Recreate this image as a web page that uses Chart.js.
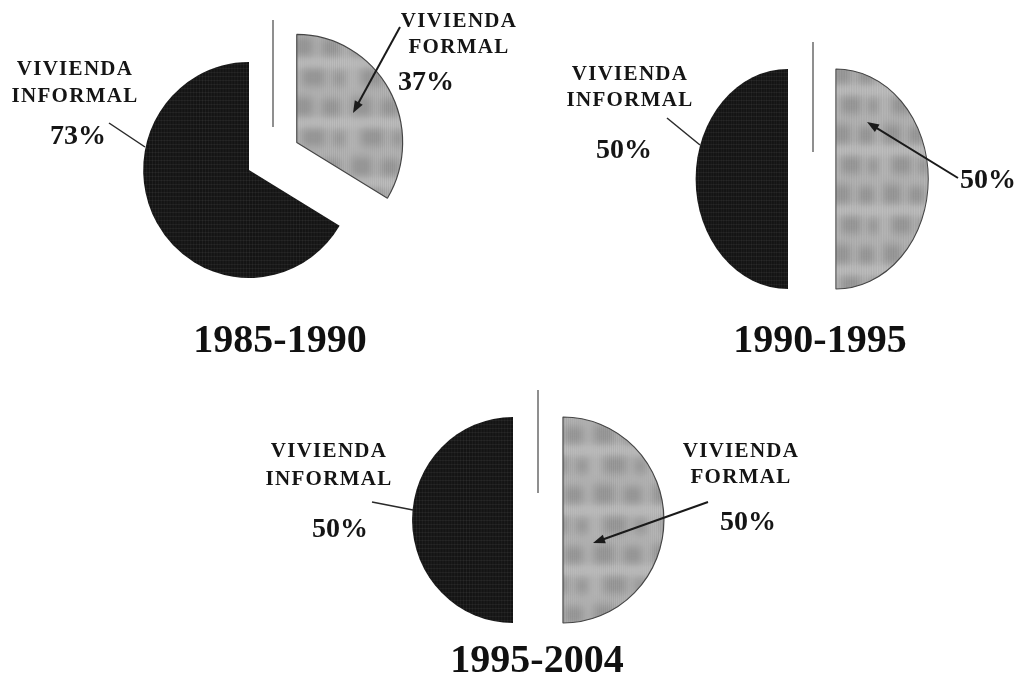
<!DOCTYPE html>
<html>
<head>
<meta charset="utf-8">
<title>Vivienda formal e informal</title>
<script src="https://cdn.jsdelivr.net/npm/chart.js@4.4.1/dist/chart.umd.min.js"></script>
<style>
body { margin: 0; background: #fff; }
#wrap { position: relative; width: 1022px; height: 677px; overflow: hidden; }
#wrap canvas { position: absolute; left: 0; top: 0; }
</style>
</head>
<body>
<div id="wrap">
<canvas id="pie1" width="1022" height="677"></canvas>
<canvas id="pie2" width="1022" height="677"></canvas>
<canvas id="pie3" width="1022" height="677"></canvas>
</div>
<script>
const categories = ['VIVIENDA FORMAL', 'VIVIENDA INFORMAL'];
const periods = ['1985-1990', '1990-1995', '1995-2004'];
const formalShare = [37, 50, 50];
const informalShare = [73, 50, 50];

// page placement of each pie and its labels
const layouts = [
    {
        cx: 249, cy: 170, r: 108, sx: 0.98, pull: [56, 0],
        informal: { x: 75, y: [75, 102], pct: [78, 144] },
        informalLine: [109, 123, 145, 147],
        formal: { x: 459, y: [27, 53], pct: [426, 90] },
        formalArrow: [400, 27, 353, 113],
        title: [280, 352],
        stray: [273, 20, 127]
    },
    {
        cx: 788, cy: 179, r: 110, sx: 0.84, pull: [57, 0],
        informal: { x: 630, y: [80, 106], pct: [624, 158] },
        informalLine: [667, 118, 700, 145],
        formal: { x: null, y: null, pct: [988, 188] },
        formalArrow: [958, 178, 867, 122],
        title: [820, 352],
        stray: [813, 42, 152]
    },
    {
        cx: 513, cy: 520, r: 103, sx: 0.98, pull: [51, 0],
        informal: { x: 329, y: [457, 485], pct: [340, 537] },
        informalLine: [372, 502, 413, 510],
        formal: { x: 741, y: [457, 483], pct: [748, 530] },
        formalArrow: [708, 502, 593, 543],
        title: [537, 672],
        stray: [538, 390, 493]
    }
];

const W = 1022, H = 677;

function makeLightFill() {
    const s = 60;
    const c = document.createElement('canvas');
    c.width = s; c.height = s;
    const g = c.getContext('2d');
    g.fillStyle = '#b8b8b8';
    g.fillRect(0, 0, s, s);
    // soft darker blotches like the scanned screen tone
    g.filter = 'blur(4px)';
    g.fillStyle = 'rgba(70,70,70,0.26)';
    const blobs = [[4, 4, 22, 20], [34, 6, 20, 18], [14, 36, 24, 18], [46, 38, 12, 16]];
    for (const [x, y, w, h] of blobs) {
        for (const dx of [-s, 0, s]) {
            for (const dy of [-s, 0, s]) g.fillRect(x + dx, y + dy, w, h);
        }
    }
    g.fillStyle = 'rgba(255,255,255,0.35)';
    for (const dy of [-s, 0, s]) g.fillRect(-10, 28 + dy, s + 20, 4);
    g.filter = 'none';
    g.fillStyle = 'rgba(0,0,0,0.06)';
    for (let x = 0; x < s; x += 2) g.fillRect(x, 0, 1, s);
    return g.createPattern(c, 'repeat');
}

function makeDarkFill() {
    const c = document.createElement('canvas');
    c.width = 12; c.height = 12;
    const g = c.getContext('2d');
    g.fillStyle = '#141414';
    g.fillRect(0, 0, 12, 12);
    g.fillStyle = 'rgba(255,255,255,0.05)';
    for (let x = 0; x < 12; x += 3) g.fillRect(x, 0, 1, 12);
    for (let y = 0; y < 12; y += 4) g.fillRect(0, y, 12, 1);
    return g.createPattern(c, 'repeat');
}

const lightFill = makeLightFill();
const darkFill = makeDarkFill();

// draw each slice pulled out along its middle angle, and squeeze
// the pie horizontally since the scanned pies are slightly oval
const explode = {
    id: 'explode',
    beforeDatasetDraw(chart, args, opts) {
        const ctx = chart.ctx;
        ctx.save();
        ctx.translate(opts.cx, opts.cy);
        ctx.scale(opts.sx, 1);
        ctx.translate(-opts.cx, -opts.cy);
        args.meta.data.forEach((arc, k) => {
            const mid = (arc.startAngle + arc.endAngle) / 2;
            const pull = opts.pull[k] || 0;
            ctx.save();
            ctx.translate(Math.cos(mid) * pull, Math.sin(mid) * pull);
            arc.draw(ctx, chart.chartArea);
            ctx.restore();
        });
        ctx.restore();
        return false;
    }
};

function drawArrow(ctx, p) {
    const [x1, y1, x2, y2] = p;
    const a = Math.atan2(y2 - y1, x2 - x1);
    const len = 12, half = 4.5;
    ctx.strokeStyle = '#1a1a1a';
    ctx.lineWidth = 2;
    ctx.beginPath();
    ctx.moveTo(x1, y1);
    ctx.lineTo(x2 - Math.cos(a) * len * 0.8, y2 - Math.sin(a) * len * 0.8);
    ctx.stroke();
    ctx.fillStyle = '#1a1a1a';
    ctx.beginPath();
    ctx.moveTo(x2, y2);
    ctx.lineTo(x2 - Math.cos(a) * len - Math.sin(a) * half, y2 - Math.sin(a) * len + Math.cos(a) * half);
    ctx.lineTo(x2 - Math.cos(a) * len + Math.sin(a) * half, y2 - Math.sin(a) * len - Math.cos(a) * half);
    ctx.closePath();
    ctx.fill();
}

function drawName(ctx, name, spot) {
    if (spot.x === null) return;
    const words = name.split(' ');
    ctx.font = 'bold 21px "Liberation Serif"';
    ctx.letterSpacing = '1.3px';
    ctx.textAlign = 'center';
    ctx.textBaseline = 'alphabetic';
    ctx.fillStyle = '#151515';
    words.forEach((w, k) => ctx.fillText(w, spot.x, spot.y[k]));
    ctx.letterSpacing = '0px';
}

const annotate = {
    id: 'annotate',
    afterDraw(chart, args, opts) {
        const ctx = chart.ctx;
        const i = opts.index;
        const L = layouts[i];
        ctx.save();

        // thin vertical mark in the gap
        ctx.strokeStyle = '#6a6a6a';
        ctx.lineWidth = 1.5;
        ctx.beginPath();
        ctx.moveTo(L.stray[0], L.stray[1]);
        ctx.lineTo(L.stray[0], L.stray[2]);
        ctx.stroke();

        drawName(ctx, categories[1], L.informal);
        drawName(ctx, categories[0], L.formal);

        ctx.font = 'bold 28px "Liberation Serif"';
        ctx.textAlign = 'center';
        ctx.fillStyle = '#151515';
        ctx.fillText(informalShare[i] + '%', L.informal.pct[0], L.informal.pct[1]);
        ctx.fillText(formalShare[i] + '%', L.formal.pct[0], L.formal.pct[1]);

        ctx.strokeStyle = '#2a2a2a';
        ctx.lineWidth = 1.5;
        ctx.beginPath();
        ctx.moveTo(L.informalLine[0], L.informalLine[1]);
        ctx.lineTo(L.informalLine[2], L.informalLine[3]);
        ctx.stroke();

        drawArrow(ctx, L.formalArrow);

        ctx.font = 'bold 40px "Liberation Serif"';
        ctx.fillStyle = '#111';
        ctx.fillText(periods[i], L.title[0], L.title[1]);
        ctx.restore();
    }
};

function makePie(i) {
    const L = layouts[i];
    const box = 120;
    return new Chart(document.getElementById('pie' + (i + 1)), {
        type: 'pie',
        data: {
            labels: categories,
            datasets: [{
                data: [formalShare[i], informalShare[i]],
                backgroundColor: [lightFill, darkFill],
                borderColor: ['#454545', '#141414'],
                borderWidth: [1.2, 0],
                radius: L.r,
                cutout: '0%',
                clip: false
            }]
        },
        options: {
            responsive: false,
            animation: false,
            events: [],
            devicePixelRatio: 1,
            radius: L.r,
            cutout: '0%',
            layout: {
                padding: {
                    left: L.cx - box,
                    right: W - L.cx - box,
                    top: L.cy - box,
                    bottom: H - L.cy - box
                }
            },
            plugins: {
                legend: { display: false },
                tooltip: { enabled: false },
                explode: { cx: L.cx, cy: L.cy, sx: L.sx, pull: L.pull },
                annotate: { index: i }
            }
        },
        plugins: [explode, annotate]
    });
}

periods.forEach((p, i) => makePie(i));
</script>
</body>
</html>
